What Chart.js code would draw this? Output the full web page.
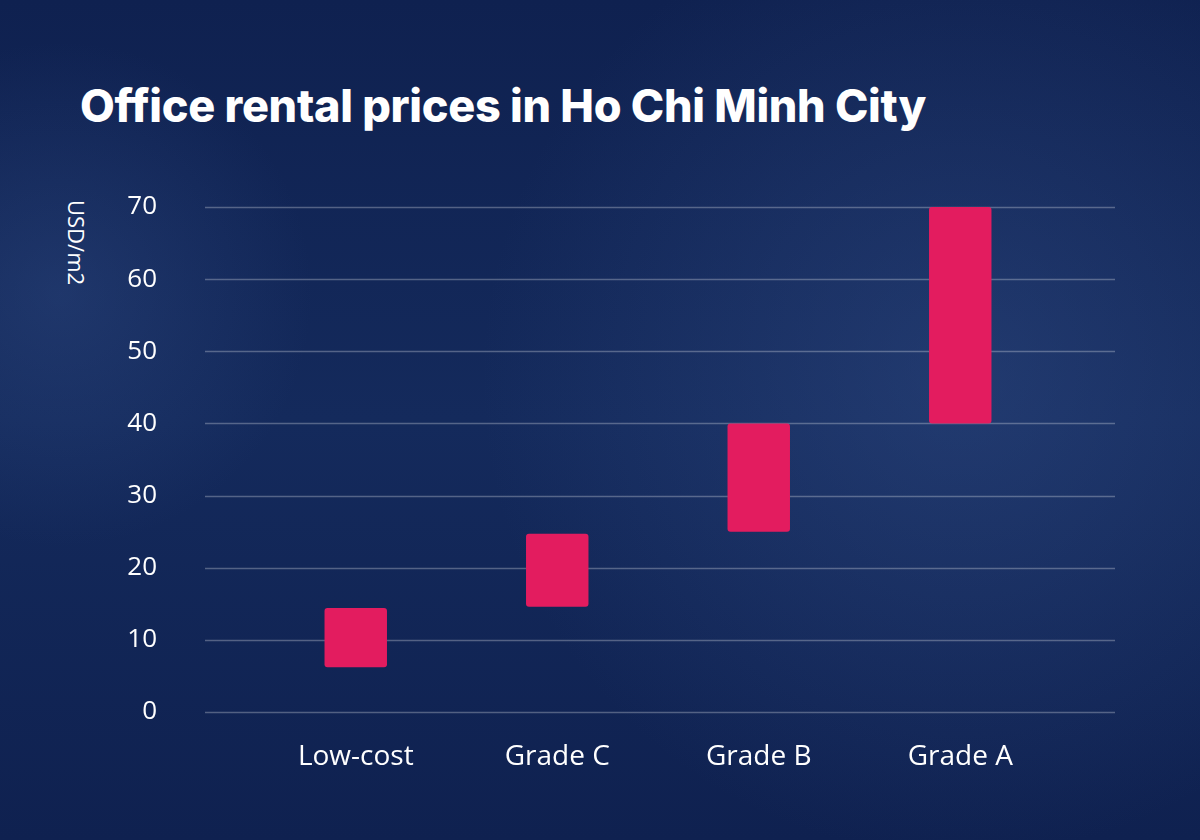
<!DOCTYPE html>
<html>
<head>
<meta charset="utf-8">
<script src="https://cdn.jsdelivr.net/npm/chart.js@4"></script>
<style>
  html, body { margin: 0; padding: 0; }
  body {
    width: 1200px; height: 840px; overflow: hidden; position: relative;
    background:
      radial-gradient(circle at 80% 45%, rgba(60,90,150,0.35), rgba(0,0,0,0) 45%),
      radial-gradient(circle at 5% 35%, rgba(60,90,150,0.3), rgba(0,0,0,0) 20%),
      linear-gradient(180deg, #0f2150 0%, #142a5c 50%, #0f2150 100%);
    font-family: "Open Sans", sans-serif;
  }
  h1 {
    position: absolute; left: 80px; top: 78px; margin: 0;
    color: #fff; font: 800 45px "Inter", sans-serif; letter-spacing: -0.3px;
  }
  .ylabel {
    position: absolute; left: 92px; top: 200px; color: #fff;
    font: 22px "Open Sans", sans-serif;
    transform-origin: left top; transform: rotate(90deg);
  }
  #wrap { position: absolute; left: 0; top: 0; width: 1200px; height: 840px; }
</style>
</head>
<body>
<h1>Office rental prices in Ho Chi Minh City</h1>
<div class="ylabel">USD/m2</div>
<div id="wrap"><canvas id="chart" width="1200" height="840"></canvas></div>
<script>
// price ranges, USD per m2
const categories = ['Low-cost', 'Grade C', 'Grade B', 'Grade A'];
const priceLow = [6.2, 14.6, 25, 40];
const priceHigh = [14.4, 24.7, 40, 70];

// horizontal grid lines drawn a bit wider than the plot area
const wideGrid = {
    id: 'wideGrid',
    beforeDatasetsDraw(chart) {
        const ctx = chart.ctx;
        const y = chart.scales.y;
        ctx.save();
        ctx.strokeStyle = 'rgba(255,255,255,0.28)';
        ctx.lineWidth = 1.5;
        y.ticks.forEach(t => {
            const py = Math.round(y.getPixelForValue(t.value)) + 0.5;
            ctx.beginPath();
            ctx.moveTo(205, py);
            ctx.lineTo(1115, py);
            ctx.stroke();
        });
        ctx.restore();
    }
};

new Chart(document.getElementById('chart'), {
    type: 'bar',
    data: {
        labels: categories,
        datasets: [{
            data: categories.map((c, i) => [priceLow[i], priceHigh[i]]),
            backgroundColor: '#e31c5f',
            borderRadius: 3,
            borderSkipped: false,
            barPercentage: 0.31,
            categoryPercentage: 1
        }]
    },
    options: {
        responsive: false,
        animation: false,
        devicePixelRatio: 1,
        layout: { padding: { left: 0, right: 139, top: 207, bottom: 0 } },
        plugins: { legend: { display: false }, tooltip: { enabled: false } },
        scales: {
            x: {
                grid: { display: false },
                border: { display: false },
                ticks: { color: '#fff', font: { size: 28, family: 'Open Sans' }, padding: 20 },
                afterFit: s => { s.height = 128; }
            },
            y: {
                min: 0, max: 70,
                grid: { display: false },
                border: { display: false },
                ticks: { stepSize: 10, color: '#fff', font: { size: 26, family: 'Open Sans' }, padding: 90 },
                afterFit: s => { s.width = 255; }
            }
        }
    },
    plugins: [wideGrid]
});
</script>
</body>
</html>
